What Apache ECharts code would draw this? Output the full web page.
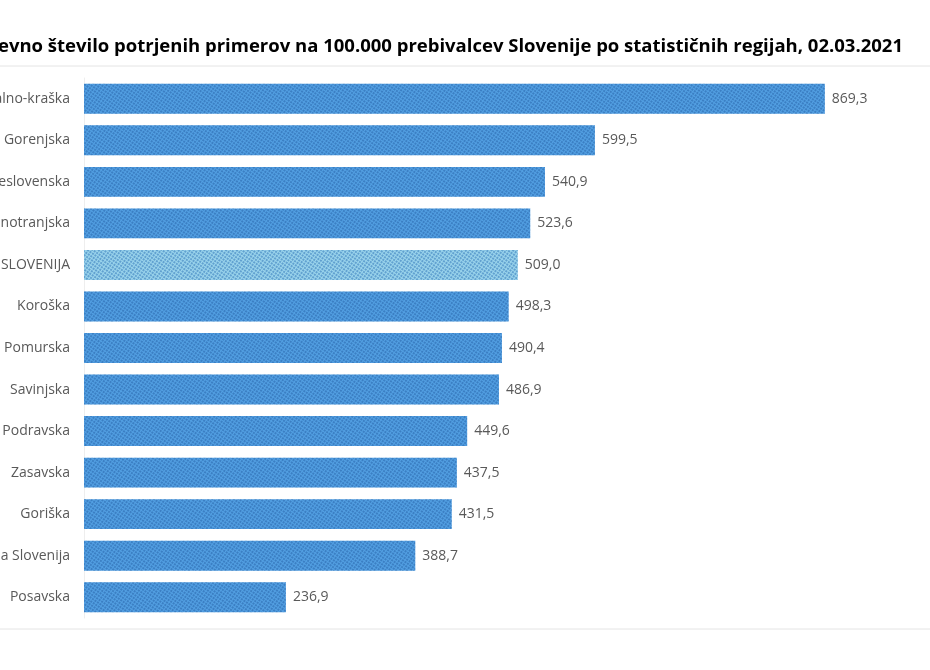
<!DOCTYPE html>
<html>
<head>
<meta charset="utf-8">
<script src="https://cdn.jsdelivr.net/npm/echarts@6/dist/echarts.min.js"></script>
<style>
  html, body { margin: 0; padding: 0; background: #fff; }
  #chart { width: 930px; height: 670px; }
</style>
</head>
<body>
<div id="chart"></div>
<script>
// regije od zgoraj navzdol
var regije = ['Obalno-kraška', 'Gorenjska', 'Osrednjeslovenska', 'Primorsko-notranjska', 'SLOVENIJA',
  'Koroška', 'Pomurska', 'Savinjska', 'Podravska', 'Zasavska', 'Goriška', 'Jugovzhodna Slovenija', 'Posavska'];
var vrednosti = [869.3, 599.5, 540.9, 523.6, 509.0, 498.3, 490.4, 486.9, 449.6, 437.5, 431.5, 388.7, 236.9];
var naslov = '14-dnevno število potrjenih primerov na 100.000 prebivalcev Slovenije po statističnih regijah, 02.03.2021';

var chart = echarts.init(document.getElementById('chart'));

var podatki = vrednosti.map(function (v, i) {
  if (regije[i] == 'SLOVENIJA') {
    return {
      value: v,
      itemStyle: {
        color: '#9ad4ec',
        decal: { symbol: 'rect', symbolSize: 1, dashArrayX: [2, 1], dashArrayY: [2, 1], rotation: 0.6, color: 'rgba(40,110,180,0.5)' }
      }
    };
  }
  return v;
});

var option = {
  animation: false,
  title: {
    text: naslov,
    right: 22,
    top: 32,
    textStyle: { fontFamily: 'Open Sans', fontSize: 18.5, fontWeight: 'bold', color: '#000' }
  },
  grid: { left: 84, right: 79, top: 78, bottom: 52, outerBoundsMode: 'none', containLabel: false },
  xAxis: {
    type: 'value',
    min: 0,
    max: 900,
    show: false
  },
  yAxis: {
    type: 'category',
    inverse: true,
    data: regije,
    axisLine: { lineStyle: { color: '#eeeeee' } },
    axisTick: { show: false },
    axisLabel: { color: '#595959', fontFamily: 'Open Sans', fontSize: 14, margin: 14 }
  },
  series: [{
    type: 'bar',
    data: podatki,
    barCategoryGap: '28%',
    itemStyle: {
      color: '#529fe2',
      decal: { symbol: 'rect', symbolSize: 1, dashArrayX: [2, 1], dashArrayY: [2, 1], rotation: 0.6, color: 'rgba(25,80,150,0.4)' }
    },
    label: {
      show: true,
      position: 'right',
      distance: 7,
      color: '#595959',
      fontFamily: 'Open Sans',
      fontSize: 14,
      formatter: function (p) { return p.value.toFixed(1).replace('.', ','); }
    }
  }],
  graphic: [
    { type: 'line', shape: { x1: 0, y1: 66, x2: 930, y2: 66 }, style: { stroke: '#e4e4e4', lineWidth: 1 } },
    { type: 'line', shape: { x1: 0, y1: 629, x2: 930, y2: 629 }, style: { stroke: '#e4e4e4', lineWidth: 1 } }
  ]
};
chart.setOption(option);
</script>
</body>
</html>
